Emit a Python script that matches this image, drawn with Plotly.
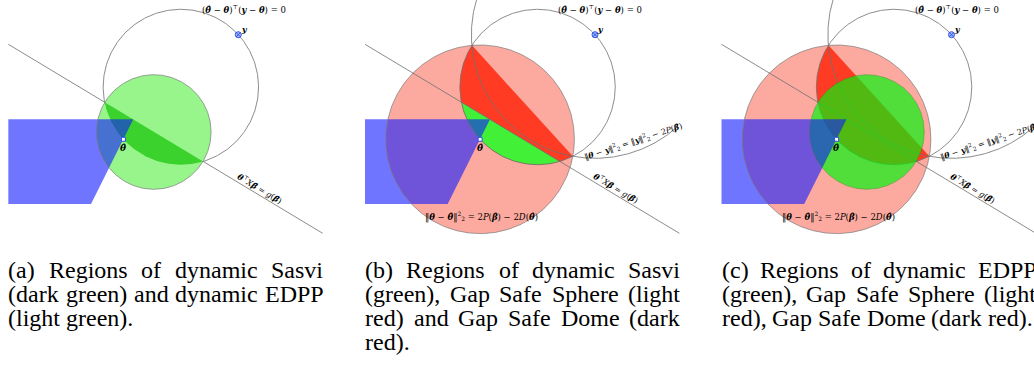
import numpy as np
import plotly.graph_objects as go

# ---------------- data (drawing units = reference pixels, panel (a) frame) ----------------
panel_offsets = [0.0, 356.7, 713.2]
theta_hat = [123.4, 139.3]
y_point = [238.3, 34.7]
line_x = [8.3, 322.7]
line_y = [44.3, 233.3]
edpp_center = [153.8, 132.0]
edpp_radius = 57.3
gap_radius = 94.3
y_circle_radius = 123.6
y_arc_deg = [47.8, 205.0]
blue_x = [8.3, 133.3, 91.0, 8.3]
blue_y = [119.3, 119.3, 204.0, 204.0]

caption_a = ["(a) Regions of dynamic Sasvi", "(dark green) and dynamic EDPP", "(light green)."]
caption_b = ["(b) Regions of dynamic Sasvi", "(green), Gap Safe Sphere (light",
             "red) and Gap Safe Dome (dark", "red)."]
caption_c = ["(c) Regions of dynamic EDPP", "(green), Gap Safe Sphere (light",
             "red), Gap Safe Dome (dark red)."]

# ---------------- styles ----------------
LIGHT_GREEN = "rgb(152,245,140)"
DARK_GREEN = "rgb(60,210,45)"
SASVI_GREEN = "rgb(65,240,55)"
BLUE = "rgba(17,25,255,0.6)"
LIGHT_RED = "rgb(252,170,160)"
DARK_RED = "rgb(255,60,35)"
EDPP_C = "rgba(0,245,10,0.68)"
LINE_GRAY = "rgb(110,110,110)"
SERIF = "Liberation Serif"
MATH = "DejaVu Serif"

CAP_X0 = 7.3
CAP_W = 315.0
CAP_SIZE = 24
CAP_Y = [269.5, 293.7, 318.0, 342.3]

TIMES_W = {' ': 250, '(': 333, ')': 333, ',': 250, '.': 250,
           'a': 444, 'b': 500, 'c': 444, 'd': 500, 'e': 444, 'f': 333, 'g': 500, 'h': 500,
           'i': 278, 'j': 278, 'k': 500, 'l': 278, 'm': 778, 'n': 500, 'o': 500, 'p': 500,
           'q': 500, 'r': 333, 's': 389, 't': 278, 'u': 500, 'v': 500, 'w': 722, 'x': 500,
           'y': 500, 'z': 444, 'D': 722, 'E': 611, 'G': 722, 'P': 556, 'R': 667, 'S': 556}


def tw(s, size):
    return sum(TIMES_W.get(ch, 500) for ch in s) * size / 1000.0


# ---------------- geometry helpers ----------------
def circle_poly(c, r, a0=0.0, a1=360.0, n=360, closed=False):
    t = np.radians(np.linspace(a0, a1, n, endpoint=closed))
    return list(zip(c[0] + r * np.cos(t), c[1] + r * np.sin(t)))


def clip(poly, p, q, keep):
    def side(pt):
        return (q[0] - p[0]) * (pt[1] - p[1]) - (q[1] - p[1]) * (pt[0] - p[0])
    sk = np.sign(side(keep))
    out = []
    n = len(poly)
    for i in range(n):
        a = poly[i]
        b = poly[(i + 1) % n]
        sa = side(a) * sk
        sb = side(b) * sk
        if sa >= 0:
            out.append(a)
        if (sa >= 0) != (sb >= 0):
            t = sa / (sa - sb)
            out.append((a[0] + t * (b[0] - a[0]), a[1] + t * (b[1] - a[1])))
    return out


th = np.array(theta_hat)
yp = np.array(y_point)
diam_c = (th + yp) / 2
diam_r = np.linalg.norm(yp - th) / 2

# intersection of diameter circle and gap sphere (chord of the dome)
d = np.linalg.norm(th - diam_c)
u = (th - diam_c) / d
a_ = (d ** 2 + diam_r ** 2 - gap_radius ** 2) / (2 * d)
h_ = np.sqrt(max(diam_r ** 2 - a_ ** 2, 0))
perp = np.array([-u[1], u[0]])
P1 = diam_c + a_ * u + h_ * perp
P2 = diam_c + a_ * u - h_ * perp

diam_poly = circle_poly(diam_c, diam_r)
sasvi_poly = clip(diam_poly, (line_x[0], line_y[0]), (line_x[1], line_y[1]), theta_hat)
dome_poly = clip(diam_poly, tuple(P1), tuple(P2), theta_hat)

fig = go.Figure()


def add_fill(poly, color, ox):
    xs = [p[0] + ox for p in poly] + [poly[0][0] + ox]
    ys = [p[1] for p in poly] + [poly[0][1]]
    fig.add_trace(go.Scatter(x=xs, y=ys, mode="lines", fill="toself", fillcolor=color,
                             line=dict(width=0, color=color), hoverinfo="skip", showlegend=False))


def add_line(poly, ox, color=LINE_GRAY, width=0.8, closed=False):
    xs = [p[0] + ox for p in poly]
    ys = [p[1] for p in poly]
    if closed:
        xs.append(xs[0])
        ys.append(ys[0])
    fig.add_trace(go.Scatter(x=xs, y=ys, mode="lines", line=dict(color=color, width=width),
                             hoverinfo="skip", showlegend=False))


def add_markers(ox):
    fig.add_trace(go.Scatter(x=[theta_hat[0] + ox], y=[theta_hat[1]], mode="markers",
                             marker=dict(symbol="square", size=4, color="white",
                                         line=dict(color="rgb(40,80,230)", width=1)),
                             hoverinfo="skip", showlegend=False))
    fig.add_trace(go.Scatter(x=[y_point[0] + ox], y=[y_point[1]], mode="markers",
                             marker=dict(symbol="circle-x", size=6, color="rgb(170,190,255)",
                                         line=dict(color="rgb(40,80,230)", width=1)),
                             hoverinfo="skip", showlegend=False))


main_line = list(zip(line_x, line_y))
blue_poly = list(zip(blue_x, blue_y))
edpp_poly = circle_poly(edpp_center, edpp_radius)
gap_poly = circle_poly(theta_hat, gap_radius)
y_arc = circle_poly(y_point, y_circle_radius, y_arc_deg[0], y_arc_deg[1], n=300, closed=True)

# ---- panel (a)
ox = panel_offsets[0]
add_line(main_line, ox)
add_line(diam_poly, ox, closed=True)
add_fill(edpp_poly, LIGHT_GREEN, ox)
add_fill(sasvi_poly, DARK_GREEN, ox)
add_fill(blue_poly, BLUE, ox)
add_line(edpp_poly, ox, color="rgb(120,120,120)", width=0.7, closed=True)
add_markers(ox)

# ---- panel (b)
ox = panel_offsets[1]
add_fill(gap_poly, LIGHT_RED, ox)
add_fill(dome_poly, DARK_RED, ox)
add_fill(sasvi_poly, SASVI_GREEN, ox)
add_fill(blue_poly, BLUE, ox)
add_line(main_line, ox)
add_line(diam_poly, ox, closed=True)
add_line(y_arc, ox)
add_line(gap_poly, ox, color="rgb(120,120,120)", width=0.7, closed=True)
add_markers(ox)

# ---- panel (c)
ox = panel_offsets[2]
add_fill(gap_poly, LIGHT_RED, ox)
add_fill(dome_poly, DARK_RED, ox)
add_line(main_line, ox)
add_line(diam_poly, ox, closed=True)
add_line(y_arc, ox)
add_fill(edpp_poly, EDPP_C, ox)
add_fill(blue_poly, BLUE, ox)
add_line(gap_poly, ox, color="rgb(120,120,120)", width=0.7, closed=True)
add_line(edpp_poly, ox, color="rgba(60,120,40,0.6)", width=0.6, closed=True)
add_markers(ox)

# ---------------- labels ----------------
def BI(s):
    return f"<b><i>{s}</i></b>"


TH, THH, YY, BH = BI("θ"), BI("θ̂"), BI("y"), BI("β̂")
top_label = f"({THH} − {TH})<sup>⊤</sup>({YY} − {TH}) = 0"
line_label = f"{TH}<sup>⊤</sup><i>X</i>{BH} = <i>g</i>({BH})"
arc_label = f"‖{TH} − {YY}‖<sup>2</sup><sub>2</sub> = ‖{YY}‖<sup>2</sup><sub>2</sub> − 2<i>P</i>({BH})"
sphere_label = f"‖{TH} − {THH}‖<sup>2</sup><sub>2</sub> = 2<i>P</i>({BH}) − 2<i>D</i>({THH})"

annotations = []


def ann(x, y, text, size, angle=0, xanchor="center", yanchor="middle", family=SERIF):
    annotations.append(dict(x=x, y=y, xref="x", yref="y", text=text, showarrow=False,
                            textangle=angle, xanchor=xanchor, yanchor=yanchor,
                            font=dict(family=family, size=size, color="black")))


for i, ox in enumerate(panel_offsets):
    ann(243.5 + ox, 8.5, top_label, 8.5, family=MATH)
    ann(244.0 + ox, 29.0, YY, 8, family=MATH)
    ann(122.8 + ox, 148.0, THH, 9, family=MATH)
    ann(259.5 + ox, 188.0, line_label, 8, angle=31, family=MATH)
    if i > 0:
        ann(276.0 + ox, 141.0, arc_label, 8, angle=-18, family=MATH)
        ann(125.0 + ox, 216.0, sphere_label, 8.5, family=MATH)

# captions (justified)
for ox, lines in zip(panel_offsets, [caption_a, caption_b, caption_c]):
    x0 = CAP_X0 + ox
    for k, line in enumerate(lines):
        words = line.split(" ")
        widths = [tw(w, CAP_SIZE) for w in words]
        last = k == len(lines) - 1
        if last or len(words) == 1:
            gap = tw(" ", CAP_SIZE)
        else:
            gap = (CAP_W - sum(widths)) / (len(words) - 1)
        x = x0
        for w, wd in zip(words, widths):
            ann(x - 1, CAP_Y[k], w, CAP_SIZE, xanchor="left")
            x += wd + gap

fig.update_layout(
    width=1034, height=368,
    margin=dict(l=0, r=0, t=0, b=0),
    paper_bgcolor="white", plot_bgcolor="white",
    xaxis=dict(range=[0, 1034], visible=False, fixedrange=True),
    yaxis=dict(range=[368, 0], visible=False, fixedrange=True),
    annotations=annotations,
    showlegend=False,
)

fig.write_html("out.html", config={"displayModeBar": False},
               post_script="document.body.style.margin='0';document.body.style.overflow='hidden';")
